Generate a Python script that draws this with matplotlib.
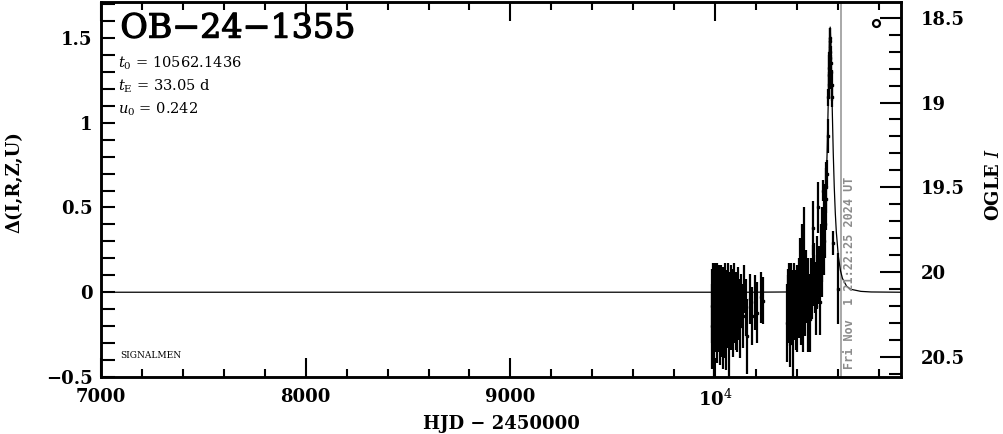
import matplotlib
matplotlib.use("Agg")
import matplotlib.pyplot as plt
import matplotlib.patheffects as pe
from matplotlib.ticker import MultipleLocator, FixedLocator, FixedFormatter, FuncFormatter

# ---------------- data ----------------
title = "OB\u221224\u22121355"
t0_text = "10562.1436"
tE_text = "33.05"
u0_text = "0.242"
date_text = "Fri Nov  1 21:22:25 2024 UT"
date_hjd = 10616.4
I_base = 20.119

# OGLE data, season 1 (HJD-2450000, delta mag, error)
season1_t = [9985, 9987, 9989, 9991, 9993, 9995, 9997, 9999, 10001, 10003,
             10005, 10007, 10009, 10011, 10013, 10015, 10017, 10019, 10021, 10023,
             10025, 10027, 10029, 10031, 10034, 10037, 10040, 10043, 10046, 10049,
             10052, 10055, 10058, 10061, 10064, 10067, 10070, 10073, 10076, 10079,
             10082, 10085, 10088, 10091, 10094, 10097, 10100, 10104, 10108, 10112,
             10117, 10122, 10128, 10134, 10141, 10149, 10158, 10168, 10180, 10193,
             10207, 10222, 10236]
season1_d = [-0.08, -0.20, 0.02, -0.12, -0.05, -0.28, 0.00, -0.15, 0.04, -0.10,
             -0.02, -0.22, -0.07, 0.03, -0.14, -0.04, -0.18, 0.01, -0.09, -0.25,
             -0.03, -0.12, 0.02, -0.16, -0.06, -0.24, -0.01, -0.11, 0.04, -0.19,
             -0.07, -0.28, -0.02, -0.13, 0.03, -0.09, -0.26, -0.04, -0.15, 0.02,
             -0.08, -0.18, -0.01, -0.12, 0.04, -0.06, -0.16, -0.03, -0.18, 0.01,
             -0.10, -0.20, -0.05, -0.14, 0.02, -0.09, -0.26, -0.04, -0.14, -0.06,
             -0.12, -0.03, -0.05]
season1_e = [0.22, 0.25, 0.15, 0.20, 0.18, 0.22, 0.16, 0.20, 0.13, 0.22,
             0.15, 0.20, 0.17, 0.14, 0.21, 0.18, 0.16, 0.15, 0.19, 0.18,
             0.16, 0.20, 0.14, 0.22, 0.17, 0.21, 0.16, 0.19, 0.13, 0.20,
             0.17, 0.18, 0.15, 0.20, 0.14, 0.18, 0.24, 0.16, 0.19, 0.14,
             0.17, 0.20, 0.15, 0.18, 0.13, 0.16, 0.18, 0.15, 0.17, 0.14,
             0.18, 0.19, 0.16, 0.19, 0.14, 0.17, 0.22, 0.15, 0.17, 0.16,
             0.18, 0.15, 0.14]

# OGLE data, season 2 (HJD-2450000, delta mag, error)
season2_t = [10352, 10355, 10358, 10361, 10364, 10366, 10369, 10372, 10375, 10378,
             10381, 10384, 10387, 10390, 10393, 10396, 10399, 10402, 10405, 10408,
             10411, 10414, 10417, 10420, 10423, 10426, 10429, 10432, 10436, 10440,
             10444, 10448, 10452, 10456, 10460, 10464, 10468, 10472, 10476, 10479,
             10484, 10488, 10492, 10496, 10500, 10503, 10508, 10512, 10516, 10520,
             10524, 10528, 10531, 10534, 10537, 10540, 10543, 10546, 10549, 10552,
             10554, 10556, 10558, 10560, 10561, 10562, 10563, 10565, 10567, 10569,
             10572, 10576, 10600]
season2_d = [-0.18, -0.02, -0.10, 0.03, -0.14, -0.22, -0.05, 0.02, -0.12, -0.03,
             -0.26, -0.08, 0.04, -0.11, -0.02, -0.15, 0.00, -0.16, -0.04, 0.06,
             -0.09, 0.10, -0.03, -0.12, 0.05, 0.14, -0.15, 0.22, 0.02, -0.08,
             0.08, -0.02, -0.17, 0.05, -0.06, -0.16, 0.06, 0.00, 0.10, 0.38,
             0.12, 0.03, -0.08, 0.15, 0.06, 0.50, 0.10, -0.06, 0.20, 0.15,
             0.28, 0.60, 0.30, 0.42, 0.40, 0.55, 0.62, 0.70, 0.92, 1.15,
             1.22, 1.32, 1.28, 1.42, 1.38, 1.48, 1.50, 1.35, 1.30, 1.22,
             1.15, 0.29, 0.02]
season2_e = [0.23, 0.16, 0.20, 0.14, 0.18, 0.22, 0.17, 0.15, 0.19, 0.16,
             0.24, 0.18, 0.13, 0.17, 0.15, 0.19, 0.16, 0.19, 0.17, 0.14,
             0.18, 0.22, 0.16, 0.19, 0.15, 0.26, 0.20, 0.28, 0.16, 0.18,
             0.17, 0.16, 0.18, 0.15, 0.17, 0.19, 0.14, 0.16, 0.18, 0.16,
             0.17, 0.15, 0.17, 0.18, 0.16, 0.15, 0.17, 0.19, 0.20, 0.18,
             0.22, 0.06, 0.20, 0.22, 0.20, 0.18, 0.15, 0.08, 0.10, 0.05,
             0.08, 0.10, 0.12, 0.08, 0.10, 0.08, 0.06, 0.10, 0.10, 0.09,
             0.06, 0.07, 0.21]

# PSPL model curve (HJD-2450000, delta mag)
model_t = [7000, 10162, 10362, 10412, 10462, 10482, 10502, 10512, 10522, 10532,
           10537, 10542, 10547, 10552, 10557, 10562.14, 10567, 10572, 10577,
           10582, 10587, 10592, 10602, 10612, 10622, 10642, 10662, 10712, 10762, 10908]
model_d = [0.0, 0.0001, 0.0016, 0.0051, 0.0176, 0.0358, 0.0816, 0.129, 0.211, 0.3565,
           0.468, 0.619, 0.822, 1.088, 1.394, 1.564, 1.394, 1.088, 0.822,
           0.619, 0.468, 0.3565, 0.211, 0.129, 0.0816, 0.0358, 0.0176, 0.0051, 0.0016, 0.0]

xticks = [7000, 8000, 9000, 10000]
xticklabels = ["7000", "8000", "9000", "10$^{4}$"]

# ---------------- plot ----------------
plt.rcParams["font.family"] = ["DejaVu Serif"]
plt.rcParams["mathtext.fontset"] = "dejavuserif"

W, H = 1004, 434
fig = plt.figure(figsize=(W / 100, H / 100), dpi=100)
ax = fig.add_axes([101 / W, 1 - 377 / H, 800 / W, 375 / H])

ax.set_xlim(7000, 10908)
ax.set_ylim(-0.5, 1.712)

ax.plot(model_t, model_d, color="black", lw=0.9, zorder=2)

for ts, ds, es in [(season1_t, season1_d, season1_e), (season2_t, season2_d, season2_e)]:
    ax.errorbar(ts, ds, yerr=es, fmt="s", ms=2.0, color="black", ecolor="black",
                elinewidth=1.6, capsize=0, zorder=3)

ax.axvline(date_hjd, color="#999999", lw=1.2, zorder=1)
ax.text(date_hjd + 10, -0.45, date_text, rotation=90, color="#8c8c8c",
        fontsize=8.5, fontweight="bold", ha="left", va="bottom", family="DejaVu Sans Mono")

ax.plot([10785], [1.588], marker="o", ms=5, mfc="white", mec="black", mew=1.6, ls="none")

# text
ax.text(7095, 1.555, title, fontsize=24, ha="left", va="center",
        path_effects=[pe.withStroke(linewidth=0.9, foreground="black")])
ax.text(7082, 1.35, r"$t_{\rm 0}$ = " + t0_text, fontsize=10.5, ha="left", va="center")
ax.text(7082, 1.215, r"$t_{\rm E}$ = " + tE_text + " d", fontsize=10.5, ha="left", va="center")
ax.text(7082, 1.08, r"$u_{\rm 0}$ = " + u0_text, fontsize=10.5, ha="left", va="center")
ax.text(7095, -0.375, "SIGNALMEN", fontsize=6.5, ha="left", va="center")

# ticks
ax.xaxis.set_major_locator(FixedLocator(xticks))
ax.xaxis.set_major_formatter(FixedFormatter(xticklabels))
ax.xaxis.set_minor_locator(MultipleLocator(200))
ax.yaxis.set_major_locator(MultipleLocator(0.5))
ax.yaxis.set_minor_locator(MultipleLocator(0.1))
ax.yaxis.set_major_formatter(FuncFormatter(
    lambda v, p: ("\u2212" if v < 0 else "") + ("%g" % abs(v))))
ax.tick_params(axis="x", which="major", direction="in", length=14, width=1.5,
               top=True, labelsize=13, pad=8)
ax.tick_params(axis="x", which="minor", direction="in", length=6, width=1.5, top=True)
ax.tick_params(axis="y", which="major", direction="in", length=10, width=1.5,
               right=False, labelsize=13, pad=6)
ax.tick_params(axis="y", which="minor", direction="in", length=10, width=1.5, right=False)
for lab in ax.get_xticklabels() + ax.get_yticklabels():
    lab.set_fontweight("bold")
for sp in ax.spines.values():
    sp.set_linewidth(1.8)

ax.set_xlabel("HJD \u2212 2450000", fontsize=13, fontweight="bold", labelpad=4)
fig.text(14 / W, 1 - 182 / H, "\u0394(I,R,Z,U)", fontsize=13, fontweight="bold",
         rotation=90, ha="center", va="center")

# right axis: OGLE I magnitude
ax2 = ax.twinx()
ax2.set_ylim(I_base - (-0.5), I_base - 1.712)
ax2.yaxis.set_major_locator(MultipleLocator(0.5))
ax2.yaxis.set_minor_locator(MultipleLocator(0.1))
ax2.yaxis.set_major_formatter(FuncFormatter(lambda v, p: "%g" % v))
ax2.tick_params(axis="y", which="major", direction="in", length=15, width=1.5,
                labelsize=13, pad=14)
ax2.tick_params(axis="y", which="minor", direction="in", length=9, width=1.5)
for lab in ax2.get_yticklabels():
    lab.set_fontweight("bold")
for sp in ax2.spines.values():
    sp.set_linewidth(1.8)
fig.text(994 / W, 1 - 184 / H, r"OGLE $\mathit{I}$", fontsize=13, fontweight="bold",
         rotation=90, ha="center", va="center")

fig.savefig("out.png", dpi=100)
